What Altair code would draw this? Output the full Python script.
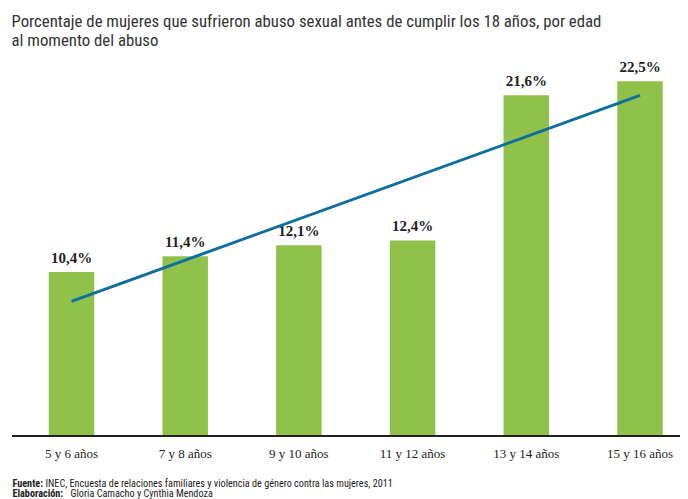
import altair as alt
import pandas as pd

categories = ["5 y 6 años", "7 y 8 años", "9 y 10 años", "11 y 12 años", "13 y 14 años", "15 y 16 años"]
values = [10.4, 11.4, 12.1, 12.4, 21.6, 22.5]
value_labels = ["10,4%", "11,4%", "12,1%", "12,4%", "21,6%", "22,5%"]
order_index = [0, 1, 2, 3, 4, 5]

title_line1 = "Porcentaje de mujeres que sufrieron abuso sexual antes de cumplir los 18 años, por edad"
title_line2 = "al momento del abuso"
source_head = "Fuente:"
source_body = "INEC, Encuesta de relaciones familiares y violencia de género contra las mujeres, 2011"
credit_head = "Elaboración:"
credit_body = "Gloria Camacho y Cynthia Mendoza"

df = pd.DataFrame({"cat": categories, "value": values, "label": value_labels, "i": order_index})

GREEN = "#8FC14B"
BLUE = "#0C6F9F"
TXT = "#222222"
SANS = "Liberation Sans Narrow, Roboto Condensed, DejaVu Sans Condensed, sans-serif"
SERIF = "Liberation Serif, DejaVu Serif, serif"

W = 672
H = 491
base_y = 428
ppu = 15.77
yscale = alt.Scale(domain=[0, 25], range=[base_y, base_y - 25 * ppu], nice=False, zero=True)
xscale = alt.Scale(domain=categories, range=[6.65, 688.85], paddingInner=0.6, paddingOuter=0.3)

X = alt.X("cat:N", sort=categories, scale=xscale, axis=None)
Y = alt.Y("value:Q", scale=yscale, axis=None)

bars = alt.Chart(df).mark_bar(color=GREEN).encode(x=X, y=Y)

vlabels = alt.Chart(df).mark_text(
    font=SERIF, fontWeight="bold", fontSize=15, dy=-9, baseline="alphabetic", color=TXT
).encode(x=X, y=Y, text="label:N")

clabels = alt.Chart(df).mark_text(
    font=SERIF, fontSize=13, baseline="alphabetic", color=TXT
).encode(x=X, y=alt.value(450), text="cat:N")

axis_line = alt.Chart(df).mark_rule(color=TXT, strokeWidth=1.5).encode(
    x=alt.value(4), x2=alt.value(W), y=alt.value(base_y)
)

cat_layer = alt.layer(bars, axis_line, vlabels, clabels)

trend = alt.Chart(df).transform_regression("i", "value").mark_line(
    color=BLUE, strokeWidth=3
).encode(
    x=alt.X("i:Q", scale=alt.Scale(domain=[0, 5], range=[63.5, 632.0], nice=False, zero=False), axis=None),
    y=Y,
)

def text_layer(txt, x, y, size, weight="normal", font=SANS, color="#333333"):
    return alt.Chart(pd.DataFrame({"t": [txt]})).mark_text(
        font=font, fontSize=size, fontWeight=weight, align="left", baseline="alphabetic", color=color
    ).encode(x=alt.value(x), y=alt.value(y), text="t:N")

titles = alt.layer(
    text_layer(title_line1, 3.5, 19, 16.8),
    text_layer(title_line2, 3.5, 38, 16.8),
    text_layer(source_head, 4.5, 478.5, 10.2, "bold", color=TXT),
    text_layer(source_body, 37.5, 478.5, 10.2, color=TXT),
    text_layer(credit_head, 4.5, 488.5, 10.2, "bold", color=TXT),
    text_layer(credit_body, 62.5, 488.5, 10.2, color=TXT),
)

chart = alt.layer(cat_layer, trend, titles).resolve_scale(x="independent").properties(
    width=W, height=H, padding=0,
    autosize=alt.AutoSizeParams(type="none"),
    background="white",
).configure_view(stroke=None)

chart.save("out.html", embed_options={"renderer": "svg", "actions": False})
